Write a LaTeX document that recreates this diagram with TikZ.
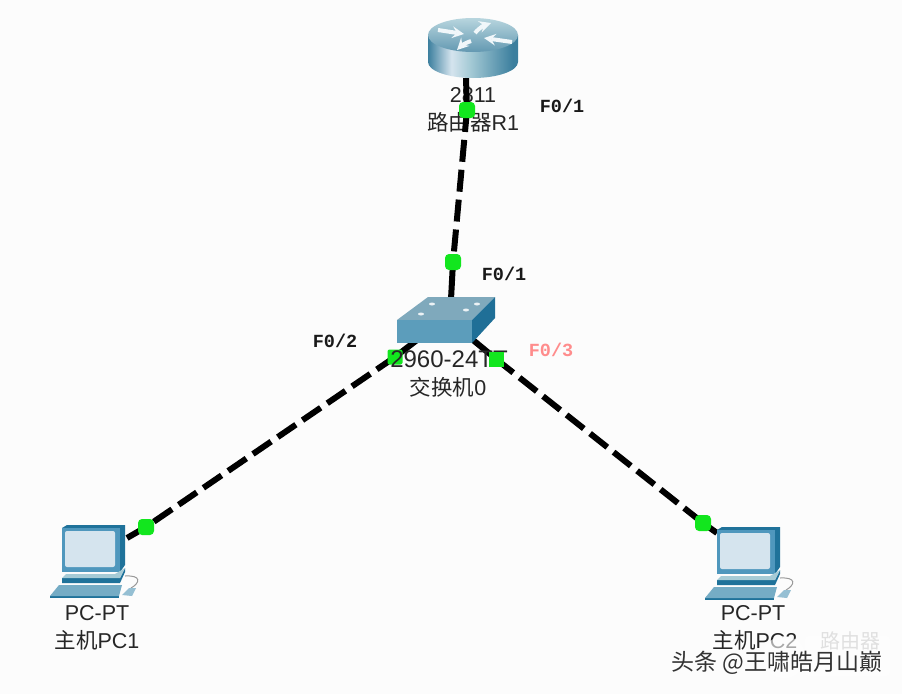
\documentclass[tikz,border=0pt]{standalone}
\usepackage{fontspec}
\setmainfont{Liberation Sans}
\setmonofont{Liberation Mono}
\newfontfamily\cjk{Noto Sans CJK SC}
\definecolor{portgreen}{HTML}{12E61E}
\definecolor{pcblue}{HTML}{4F97BD}
\definecolor{pcdark}{HTML}{1F729A}
\definecolor{pclight}{HTML}{D5E4EE}
\definecolor{pcpale}{HTML}{A6CBD6}
\definecolor{swtop}{HTML}{7FA9BC}
\definecolor{swfront}{HTML}{5C9DBB}
\definecolor{swside}{HTML}{1F6F97}
\definecolor{rtdark}{HTML}{3C7F9E}
\pgfdeclarehorizontalshading{routerside}{100bp}{
  color(0bp)=(rtdark); color(25bp)=(rtdark); color(38bp)=(pclight);
  color(48bp)=(pcpale); color(72bp)=(rtdark); color(100bp)=(rtdark)}
\tikzset{
  lbl/.style={font=\fontsize{21.5}{24}\selectfont,text=black!85,inner sep=0pt},
  iflbl/.style={font=\fontsize{18.5}{22}\ttfamily\bfseries\selectfont,text=black!90,inner sep=0pt},
  port/.style={fill=portgreen,rounded corners=4pt,minimum size=16pt,inner sep=0pt},
  portsq/.style={fill=portgreen,minimum size=15pt,inner sep=0pt},
  cable/.style={line width=6pt,black},
  cabledash/.style={cable,dash pattern=on 22pt off 8pt},
  rtarrow/.style={-stealth,white!92!pcblue,line width=4pt},
  pics/pcunit/.style={code={
    \fill[pcdark] (0,0)--(5,-3)--(63,-3)--(63,37)--(58,44)--cycle;
    \fill[pcblue] (0,0) rectangle (58,44);
    \fill[pclight,rounded corners=2pt] (3,3) rectangle (53,39);
    \fill[pcdark] (0,50)--(58,50)--(63,40)--(63,44)--(58,55)--(0,55)--cycle;
    \fill[pcpale] (0,50)--(4,46)--(53,46)--(63,40)--(58,50)--cycle;
    \fill[pcdark] (-12,68)--(57,68)--(57,70)--(-12,70)--cycle;
    \fill[swfront!85!white] (-12,68)--(-3,57)--(60,57)--(57,68)--cycle;
    \draw[black!40,line width=1pt] (69,60) .. controls (78,55) and (80,47) .. (63,48);
    \fill[swfront!65!white] (60,67)--(67,60)--(74,60)--(70,68)--cycle;
  }}
}
\begin{document}
\begin{tikzpicture}[x=1pt,y=-1pt]
\useasboundingbox (0,0) rectangle (902,694);
\fill[black!1] (0,0) rectangle (902,694);
% labels
\node[lbl] (r1model) at (473,95) {2811};
\node[lbl] (r1name) at (473,122) {{\cjk 路由器}R1};
\node[lbl] (s0name) at (448,387) {{\cjk 交换机}0};
\node[lbl] (pc1model) at (97,613) {PC-PT};
\node[lbl] (pc1name) at (97,640) {{\cjk 主机}PC1};
\node[lbl] (pc2model) at (753,613) {PC-PT};
\node[lbl] (pc2name) at (755,640) {{\cjk 主机}PC2};
\node[iflbl] (r1if) at (562,106) {F0/1};
\node[iflbl] (s0if1) at (504,274) {F0/1};
\node[iflbl] (s0if2) at (335,341) {F0/2};
\node[iflbl,text=red!45!white] (s0if3) at (551,350) {F0/3};
% cable ends at the devices
\coordinate (r1end) at (466,78);
\coordinate (s0top) at (450,318);
\coordinate (s0left) at (417,340);
\coordinate (s0right) at (473,340);
\coordinate (pc1end) at (127,538);
\coordinate (pc2end) at (717,533);
% ports
\coordinate (r1port) at (467,110);
\coordinate (s0port1) at (453,262);
\coordinate (s0port2) at (395,357);
\coordinate (s0port3) at (496,359);
\coordinate (pc1port) at (146,527);
\coordinate (pc2port) at (703,523);
% cables
\draw[cable] (r1end)--(r1port);
\draw[cabledash] (r1port)--(s0port1);
\draw[cable] (s0port1)--(s0top);
\draw[cable] (s0left)--(s0port2);
\draw[cabledash] (s0port2)--(pc1port);
\draw[cable] (pc1port)--(pc1end);
\draw[cable] (s0right)--(s0port3);
\draw[cabledash] (s0port3)--(pc2port);
\draw[cable] (pc2port)--(pc2end);
\node[port] (r1dot) at (r1port) {};
\node[port] (s0dot1) at (s0port1) {};
\node[portsq,rounded corners=2pt] (s0dot2) at (s0port2) {};
\node[port] (pc1dot) at (pc1port) {};
\node[port] (pc2dot) at (pc2port) {};
\node[lbl,font=\fontsize{24}{26}\selectfont] (s0model) at (449,359) {2960-24TT};
\node[portsq] (s0dot3) at (s0port3) {};
% router
\shade[shading=routerside] (428,35)--(428,62) arc[start angle=180,end angle=0,x radius=45,y radius=16]--(518,35)--cycle;
\shade[top color=pcpale!80!white,bottom color=rtdark!80!white] (473,35) ellipse [x radius=45,y radius=17];
\draw[rtarrow] (438,30)--(464,34);
\draw[rtarrow] (512,42)--(484,38);
\draw[rtarrow] (475,33) .. controls (480,27) and (485,25) .. (491,23);
\draw[rtarrow] (471,41) .. controls (465,43) and (461,46) .. (457,50);
% switch
\fill[swtop] (397,320)--(428,297)--(495,297)--(472,320)--cycle;
\fill[swfront] (397,320) rectangle (472,343);
\fill[swside] (472,320)--(495,297)--(495,318)--(472,343)--cycle;
\foreach \x/\y in {432/304,477/304,421/314,466/310}{
  \fill[white!85!swtop] (\x,\y) ellipse [x radius=3,y radius=1.5];
}
% hosts
\pic at (62,528) {pcunit};
\pic at (717,530) {pcunit};
% watermark
\fill[white,opacity=.6] (784,657) circle (21);
\fill[white,opacity=.4,rounded corners=4pt] (805,636) rectangle (890,676);
\node[inner sep=0pt,text=black!12,font=\fontsize{20}{22}\selectfont\cjk] (wmark) at (850,641) {路由器};
\node[inner sep=0pt,text=black!80,font=\fontsize{23}{24}\selectfont\cjk] (wtext) at (777,663) {头条 @王啸皓月山巅};
\end{tikzpicture}
\end{document}
